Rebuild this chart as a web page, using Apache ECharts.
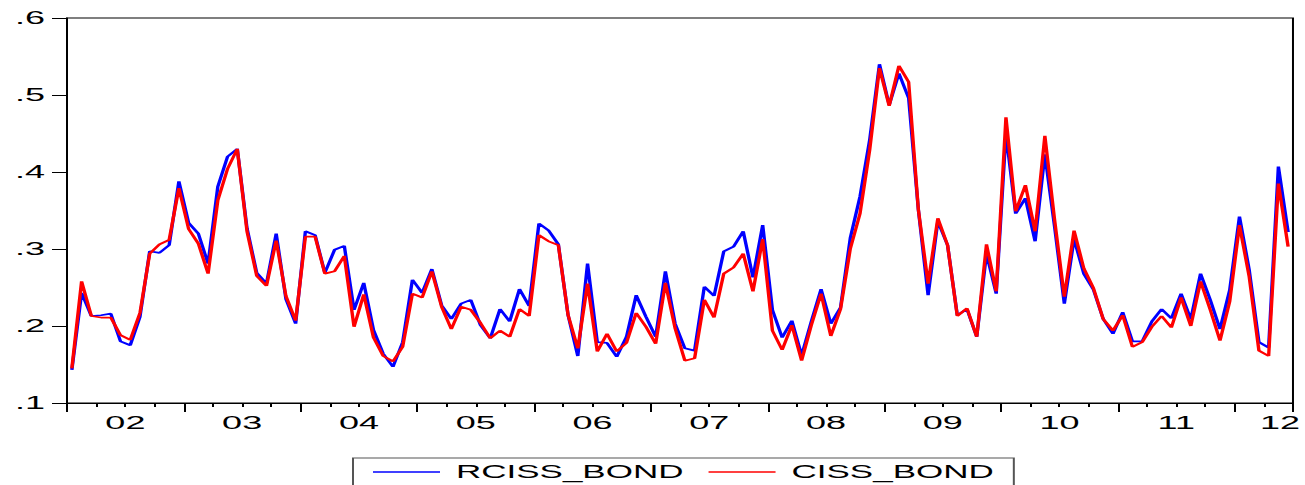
<!DOCTYPE html>
<html><head><meta charset="utf-8">
<script src="https://cdn.jsdelivr.net/npm/echarts@6/dist/echarts.min.js"></script>
<style>
html,body{margin:0;padding:0;background:#fff;overflow:hidden;}
#wrap{width:1305px;height:485px;overflow:hidden;position:relative;background:#fff;}
#chart{width:652.5px;height:485px;transform:scaleX(2);transform-origin:0 0;}
</style></head><body><div id="wrap"><div id="chart"></div></div>
<script>
// Monthly observations, Jan 2002 .. Jun 2012
const seriesNames = ['RCISS_BOND', 'CISS_BOND'];
const rcissBond = [
0.143,0.243,0.213,0.214,0.216,0.180,0.175,0.212,0.297,0.295,0.305,0.388,
0.334,0.320,0.281,0.381,0.420,0.430,0.327,0.269,0.255,0.320,0.235,0.203,
0.323,0.318,0.269,0.299,0.304,0.221,0.256,0.195,0.164,0.147,0.179,0.260,
0.243,0.274,0.227,0.209,0.229,0.234,0.201,0.184,0.222,0.206,0.248,0.226,
0.333,0.324,0.306,0.214,0.161,0.281,0.179,0.178,0.160,0.186,0.240,0.212,
0.186,0.271,0.203,0.171,0.168,0.251,0.239,0.297,0.303,0.323,0.263,0.331,
0.221,0.185,0.207,0.162,0.206,0.248,0.203,0.224,0.314,0.368,0.442,0.540,
0.487,0.528,0.496,0.351,0.240,0.336,0.305,0.214,0.222,0.186,0.294,0.242,
0.450,0.346,0.366,0.310,0.423,0.329,0.229,0.313,0.268,0.247,0.209,0.190,
0.218,0.180,0.180,0.206,0.222,0.210,0.242,0.209,0.268,0.234,0.196,0.247,
0.342,0.273,0.179,0.172,0.407,0.322
];
const cissBond = [
0.145,0.258,0.213,0.211,0.211,0.188,0.182,0.217,0.294,0.306,0.312,0.379,
0.326,0.307,0.268,0.363,0.404,0.430,0.323,0.265,0.252,0.311,0.239,0.207,
0.316,0.316,0.268,0.271,0.291,0.199,0.241,0.185,0.161,0.154,0.173,0.242,
0.237,0.271,0.225,0.196,0.225,0.221,0.204,0.184,0.194,0.186,0.222,0.213,
0.318,0.310,0.305,0.214,0.171,0.255,0.167,0.190,0.167,0.178,0.217,0.199,
0.177,0.256,0.197,0.155,0.158,0.234,0.211,0.268,0.276,0.294,0.245,0.313,
0.194,0.169,0.201,0.155,0.201,0.242,0.187,0.222,0.300,0.346,0.429,0.535,
0.486,0.538,0.517,0.351,0.255,0.340,0.305,0.213,0.223,0.186,0.306,0.245,
0.471,0.349,0.383,0.323,0.447,0.338,0.238,0.324,0.275,0.249,0.209,0.194,
0.214,0.173,0.179,0.199,0.213,0.198,0.237,0.200,0.258,0.221,0.181,0.232,
0.331,0.264,0.168,0.161,0.385,0.303
];
const yearLabels = ['02','03','04','05','06','07','08','09','10','11','12'];
const yTickLabels = ['.1','.2','.3','.4','.5','.6'];

const nMonths = rcissBond.length;
const toPairs = arr => arr.map((v, i) => [i + 0.5, v]);
const FONT = 'Liberation Sans';

const chart = echarts.init(document.getElementById('chart'), null, {renderer: 'svg'});
const option = {
  animation: false,
  backgroundColor: '#ffffff',
  textStyle: {fontFamily: FONT},
  grid: {left: 33.5, right: 5, top: 18, bottom: 82, show: true, borderColor: '#000', borderWidth: 1},
  legend: {
    left: 176.5, top: 458,
    padding: [5, 10, 10, 10],
    borderColor: '#555', borderWidth: 1,
    itemGap: 12.5, itemWidth: 33.5, itemHeight: 1.6,
    icon: 'rect',
    textStyle: {fontFamily: FONT, fontSize: 17.5, color: '#000', padding: [0, 0, 0, 3]},
    data: seriesNames
  },
  xAxis: [
    {
      type: 'value', min: 0, max: nMonths, interval: 3, position: 'bottom',
      axisLine: {show: true, onZero: false, lineStyle: {color: '#000', width: 1}},
      axisTick: {show: true, length: 4, lineStyle: {color: '#000', width: 1}},
      axisLabel: {show: false}, splitLine: {show: false}
    },
    {
      type: 'value', min: 0, max: nMonths, interval: 12, position: 'bottom',
      axisLine: {show: false, onZero: false},
      axisTick: {show: true, length: 9, lineStyle: {color: '#000', width: 1}},
      axisLabel: {show: false}, splitLine: {show: false}
    },
    {
      type: 'value', min: 0, max: nMonths, interval: 6, position: 'bottom',
      axisLine: {show: false, onZero: false},
      axisTick: {show: false},
      splitLine: {show: false},
      axisLabel: {
        show: true, margin: 11, fontFamily: FONT, fontSize: 18, color: '#000',
        formatter: v => {
          const k = (v - 6) / 12;
          if (!Number.isInteger(k) || k < 0 || k >= yearLabels.length) return '';
          return k === yearLabels.length - 1 ? '{last|' + yearLabels[k] + '}' : yearLabels[k];
        },
        rich: {last: {fontFamily: FONT, fontSize: 18, color: '#000', padding: [0, 13, 0, 0]}}
      }
    }
  ],
  yAxis: {
    type: 'value', min: 0.1, max: 0.6, interval: 0.1,
    axisLine: {show: true, onZero: false, lineStyle: {color: '#000', width: 1}},
    axisTick: {show: true, length: 7.5, lineStyle: {color: '#000', width: 1}},
    splitLine: {show: false},
    axisLabel: {
      margin: 11, fontFamily: FONT, fontSize: 18, color: '#000',
      formatter: v => yTickLabels[Math.round(v * 10) - 1] || ''
    }
  },
  series: [
    {
      name: seriesNames[0], type: 'line', xAxisIndex: 0, data: toPairs(rcissBond),
      symbol: 'none', itemStyle: {color: '#0000ff'}, lineStyle: {color: '#0000ff', width: 1.7}
    },
    {
      name: seriesNames[1], type: 'line', xAxisIndex: 0, data: toPairs(cissBond),
      symbol: 'none', itemStyle: {color: '#ff0000'}, lineStyle: {color: '#ff0000', width: 1.7}
    }
  ]
};
chart.setOption(option);
</script></body></html>
